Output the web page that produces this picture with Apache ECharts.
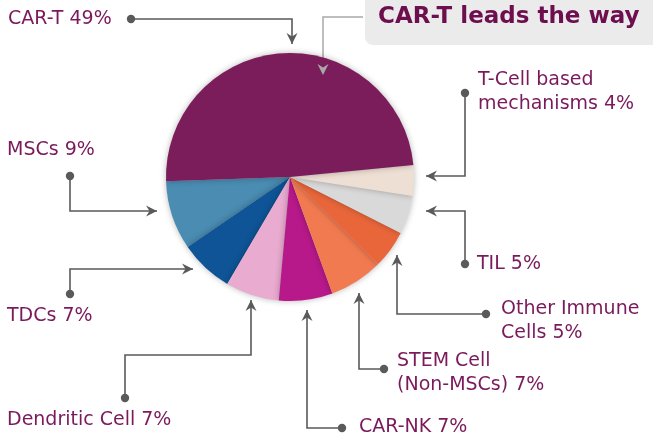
<!DOCTYPE html>
<html lang="en">
<head>
  <meta charset="UTF-8">
  <title>CAR-T leads the way</title>
  <script src="https://cdn.jsdelivr.net/npm/echarts@6/dist/echarts.min.js"></script>
  <style>
    html, body { margin: 0; padding: 0; background: #fff; }
    #main { width: 653px; height: 437px; }
  </style>
</head>
<body>
<div id="main"></div>
<script>
  // data, clockwise from the left edge of the pie
  var names = ['CAR-T', 'T-Cell based\nmechanisms', 'TIL', 'Other Immune\nCells', 'STEM Cell\n(Non-MSCs)', 'CAR-NK', 'Dendritic Cell', 'TDCs', 'MSCs'];
  var shares = [49, 4, 5, 5, 7, 7, 7, 7, 9];
  var colors = ['#7B1C5B', '#EEDFD4', '#D9D9D9', '#E8663A', '#F27A50', '#B8198A', '#E9ABD0', '#0E5496', '#4A8CB2'];

  // label anchor (left, middle) and leader line: dot -> ... -> arrow tip
  var labelPos = [[8, 19], [478, 92], [477, 264], [501, 321], [397, 373], [359, 427], [7, 420], [7, 316], [7, 150]];
  var leaders = [
    [[131, 19], [292, 19], [292, 44]],
    [[465, 93], [465, 176], [426, 176]],
    [[465, 264], [465, 211], [426, 211]],
    [[486, 314], [397, 314], [397, 255]],
    [[384, 369], [359, 369], [359, 293]],
    [[342, 428], [307, 428], [307, 310]],
    [[125, 398], [125, 355], [251, 355], [251, 300]],
    [[70, 294], [70, 269], [193, 269]],
    [[70, 176], [70, 211], [157, 211]]
  ];
  var titleLeader = [[363, 17], [323, 17], [323, 75]];

  var lineDark = '#5A5A5A';
  var lineLight = '#A9A9A9';
  var textColor = '#7A1A5C';

  // drawn in reverse order so each slice's shadow falls like the original
  var pieData = [];
  for (var i = names.length - 1; i >= 0; i--) {
    pieData.push({ name: names[i], value: shares[i], idx: i, itemStyle: { color: colors[i] } });
  }

  function arrowHead(pts, color) {
    var tip = pts[pts.length - 1], prev = pts[pts.length - 2];
    var dx = tip[0] - prev[0], dy = tip[1] - prev[1];
    var len = Math.sqrt(dx * dx + dy * dy);
    var ux = dx / len, uy = dy / len, nx = -uy, ny = ux;
    var L = 11, W = 5.5, N = 7.5;
    return {
      type: 'polygon',
      z: 10,
      shape: { points: [
        tip,
        [tip[0] - ux * L + nx * W, tip[1] - uy * L + ny * W],
        [tip[0] - ux * N, tip[1] - uy * N],
        [tip[0] - ux * L - nx * W, tip[1] - uy * L - ny * W]
      ] },
      style: { fill: color }
    };
  }

  var graphics = [
    { type: 'rect', shape: { x: 365, y: -12, width: 300, height: 57, r: 8 }, style: { fill: '#EBEBEB' } },
    { type: 'text', x: 378, y: 17, style: { text: 'CAR-T leads the way', font: 'bold 23px "DejaVu Sans"', fill: '#6D0F4F', align: 'left', verticalAlign: 'middle' } },
    { type: 'polyline', shape: { points: titleLeader }, style: { stroke: lineLight, lineWidth: 1.5, fill: null } },
    arrowHead(titleLeader, lineLight)
  ];
  leaders.forEach(function (pts) {
    graphics.push({ type: 'circle', z: 10, shape: { cx: pts[0][0], cy: pts[0][1], r: 4.2 }, style: { fill: lineDark } });
    graphics.push(arrowHead(pts, lineDark));
  });

  var myChart = echarts.init(document.getElementById('main'));
  var option = {
    backgroundColor: '#fff',
    animation: false,
    graphic: graphics,
    series: [{
      type: 'pie',
      center: [290, 177],
      radius: 124,
      startAngle: 182,
      clockwise: false,
      data: pieData,
      itemStyle: { shadowBlur: 6, shadowColor: 'rgba(0,0,0,0.28)' },
      emphasis: { disabled: true },
      label: {
        show: true,
        position: 'outside',
        formatter: '{b} {c}%',
        color: textColor,
        fontFamily: 'DejaVu Sans',
        fontSize: 19,
        lineHeight: 24
      },
      labelLine: {
        show: true,
        lineStyle: { color: lineDark, width: 1.6 }
      },
      labelLayout: function (p) {
        var k = pieData[p.dataIndex].idx;
        var pts = leaders[k].slice().reverse();
        return {
          x: labelPos[k][0],
          y: labelPos[k][1],
          align: 'left',
          verticalAlign: 'middle',
          hideOverlap: false,
          labelLinePoints: pts
        };
      }
    }]
  };
  myChart.setOption(option);
</script>
</body>
</html>
